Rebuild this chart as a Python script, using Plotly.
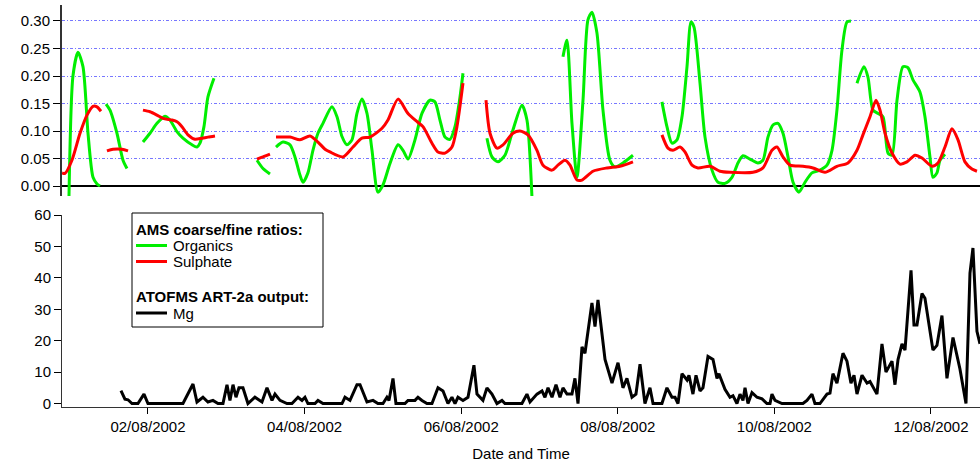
import pandas as pd
import plotly.graph_objects as go

# ---- data: time given as fractional day of August 2002 (None = gap) ----
org_day = [0.991, 1.042, 1.106, 1.170, 1.234, 1.298, 1.349, 1.387, None,
           1.464, 1.515, 1.604, 1.681, 1.732, None,
           1.936, 2.026, 2.115, 2.217, 2.281, 2.370, 2.447, 2.562, 2.626, 2.664, 2.715, 2.766, 2.843, None,
           3.392, 3.469, 3.558, None,
           3.635, 3.724, 3.814, 3.877, 3.941, 3.980, 4.043, 4.107, 4.171, 4.235, 4.350, 4.414, 4.478,
           4.541, 4.605, 4.669, 4.733, 4.797, 4.861, 4.937, 5.001, 5.091, 5.193, 5.257, 5.321, 5.410,
           5.499, 5.601, 5.665, 5.729, 5.793, 5.857, 5.921, 5.985, 6.023, None,
           6.329, 6.393, 6.470, 6.559, 6.661, 6.776, 6.840, 6.904, None,
           7.300, 7.351, 7.415, 7.479, 7.556, 7.619, 7.670, 7.734, 7.811, 7.900, 7.964, 8.066, 8.194, None,
           8.564, 8.628, 8.692, 8.756, 8.820, 8.884, 8.935, 8.973, 9.050, 9.114, 9.203, 9.280, 9.369,
           9.458, 9.535, 9.599, 9.688, 9.790, 9.854, 9.918, 9.982, 10.046, 10.110, 10.174, 10.238,
           10.314, 10.391, 10.480, 10.582, 10.672, 10.736, 10.799, 10.863, 10.927, 10.978, None,
           11.055, 11.144, 11.195, 11.259, 11.323, 11.387, 11.451, 11.502, 11.566, 11.642, 11.706,
           11.770, 11.859, 11.923, 11.987, 12.025, 12.076, 12.115, 12.179]
org_val = [-0.020, 0.200, 0.243, 0.217, 0.096, 0.016, 0.004, 0.000, None,
           0.149, 0.138, 0.096, 0.047, 0.032, None,
           0.080, 0.096, 0.114, 0.127, 0.120, 0.099, 0.087, 0.075, 0.071, 0.078, 0.108, 0.162, 0.196, None,
           0.047, 0.032, 0.022, None,
           0.071, 0.080, 0.075, 0.053, 0.020, 0.007, 0.024, 0.065, 0.096, 0.114, 0.144, 0.126, 0.090,
           0.075, 0.084, 0.132, 0.158, 0.132, 0.065, -0.011, 0.002, 0.041, 0.075, 0.065, 0.049, 0.084,
           0.132, 0.156, 0.153, 0.120, 0.089, 0.085, 0.108, 0.162, 0.205, None,
           0.087, 0.053, 0.044, 0.056, 0.102, 0.147, 0.120, -0.020, None,
           0.235, 0.265, 0.114, 0.016, 0.156, 0.302, 0.316, 0.278, 0.138, 0.047, 0.035, 0.042, 0.056, None,
           0.153, 0.108, 0.078, 0.084, 0.126, 0.217, 0.298, 0.289, 0.187, 0.089, 0.029, 0.007, 0.005,
           0.016, 0.042, 0.055, 0.049, 0.042, 0.047, 0.089, 0.111, 0.114, 0.096, 0.053, 0.007,
           -0.011, 0.007, 0.024, 0.029, 0.038, 0.065, 0.138, 0.247, 0.298, 0.300, None,
           0.187, 0.217, 0.198, 0.138, 0.132, 0.126, 0.060, 0.056, 0.156, 0.217, 0.215,
           0.193, 0.171, 0.126, 0.053, 0.016, 0.024, 0.047, 0.058]

sul_day = [0.902, 0.940, 1.029, 1.132, 1.221, 1.298, 1.349, 1.400, None,
           1.476, 1.553, 1.668, 1.745, None,
           1.936, 2.026, 2.115, 2.192, 2.307, 2.370, 2.434, 2.511, 2.600, 2.690, 2.766, 2.856, None,
           3.392, 3.469, 3.558, None,
           3.635, 3.814, 3.941, 4.069, 4.171, 4.261, 4.324, 4.490, 4.618, 4.733, 4.835, 4.989, 5.065,
           5.193, 5.321, 5.436, 5.512, 5.627, 5.704, 5.793, 5.882, 5.946, 6.023, None,
           6.317, 6.368, 6.457, 6.534, 6.661, 6.751, 6.853, 6.968, 7.045, 7.160, 7.236, 7.326, 7.390,
           7.479, 7.543, 7.683, 7.862, 8.028, 8.194, None,
           8.564, 8.641, 8.705, 8.794, 8.858, 8.948, 9.024, 9.178, 9.305, 9.433, 9.727, 9.854, 9.969,
           10.033, 10.110, 10.199, 10.365, 10.493, 10.646, 10.799, 10.940, 11.055, 11.131, 11.221,
           11.298, 11.349, 11.413, 11.502, 11.604, 11.693, 11.796, 11.885, 12.013, 12.089, 12.179,
           12.268, 12.345, 12.434, 12.523, 12.587]
sul_val = [0.024, 0.023, 0.047, 0.096, 0.129, 0.145, 0.144, 0.136, None,
           0.064, 0.067, 0.067, 0.064, None,
           0.138, 0.135, 0.129, 0.123, 0.120, 0.117, 0.108, 0.093, 0.085, 0.087, 0.089, 0.091, None,
           0.049, 0.053, 0.058, None,
           0.089, 0.089, 0.084, 0.091, 0.080, 0.067, 0.062, 0.053, 0.071, 0.087, 0.089, 0.105, 0.120,
           0.158, 0.132, 0.117, 0.108, 0.078, 0.062, 0.060, 0.071, 0.108, 0.187, None,
           0.156, 0.096, 0.069, 0.075, 0.096, 0.100, 0.093, 0.065, 0.038, 0.029, 0.038, 0.047, 0.038,
           0.011, 0.011, 0.027, 0.033, 0.036, 0.044, None,
           0.093, 0.069, 0.065, 0.071, 0.062, 0.038, 0.033, 0.036, 0.027, 0.025, 0.025, 0.033, 0.065,
           0.071, 0.053, 0.038, 0.036, 0.033, 0.025, 0.036, 0.042, 0.065, 0.093, 0.126,
           0.156, 0.138, 0.096, 0.060, 0.040, 0.044, 0.056, 0.051, 0.036, 0.042, 0.071,
           0.104, 0.084, 0.044, 0.031, 0.027]

mg_day = [1.655, 1.706, 1.745, 1.796, 1.872, 1.949, 2.000, 2.447, 2.575, 2.626, 2.702, 2.766, 2.830,
          2.894, 2.958, 3.009, 3.047, 3.086, 3.124, 3.162, 3.213, 3.277, 3.366, 3.456, 3.520, 3.584,
          3.622, 3.686, 3.775, 3.839, 3.916, 3.967, 4.005, 4.043, 4.133, 4.171, 4.235, 4.478, 4.516,
          4.580, 4.669, 4.708, 4.797, 4.874, 4.937, 5.001, 5.052, 5.078, 5.129, 5.167, 5.282, 5.321,
          5.410, 5.448, 5.499, 5.563, 5.627, 5.704, 5.768, 5.831, 5.882, 5.921, 5.959, 6.023, 6.087,
          6.163, 6.202, 6.278, 6.329, 6.393, 6.457, 6.521, 6.559, 6.776, 6.840, 6.879, 6.968, 7.032,
          7.070, 7.109, 7.160, 7.211, 7.262, 7.300, 7.351, 7.415, 7.453, 7.492, 7.543, 7.581, 7.670,
          7.709, 7.747, 7.837, 7.926, 8.003, 8.066, 8.117, 8.181, 8.232, 8.284, 8.347, 8.411, 8.450,
          8.564, 8.628, 8.692, 8.731, 8.769, 8.820, 8.884, 8.909, 8.960, 8.999, 9.050, 9.088, 9.152,
          9.216, 9.267, 9.292, 9.369, 9.433, 9.471, 9.522, 9.561, 9.599, 9.625, 9.663, 9.714, 9.778,
          9.842, 9.905, 9.944, 9.969, 10.008, 10.097, 10.365, 10.416, 10.480, 10.518, 10.582, 10.672,
          10.710, 10.748, 10.799, 10.876, 10.927, 10.978, 11.017, 11.055, 11.119, 11.183, 11.221,
          11.310, 11.374, 11.425, 11.502, 11.540, 11.579, 11.630, 11.668, 11.745, 11.783, 11.821,
          11.885, 11.923, 12.025, 12.076, 12.140, 12.204, 12.281, 12.370, 12.447, 12.498, 12.536,
          12.587, 12.626]
mg_val = [4.1, 1.4, 1.2, 0, 0, 3, 0, 0, 6.2, 0.5, 2, 0.5, 1,
          0, 0, 6, 1, 6, 2, 5, 5, 0, 2, 0.5, 5, 1,
          3, 1, 0, 0, 2, 1, 2, 0, 0, 1, 0, 0, 2,
          1, 6, 6, 0.5, 1, 0, 0, 2, 1, 8, 0, 0, 1,
          1, 2, 1, 0, 0, 5, 4, 0, 2, 0, 2, 1, 2,
          12.2, 3, 1, 5, 3, 0, 1, 0, 0, 3, 0.5, 3, 4,
          2, 5, 2, 6, 2, 5, 3, 3, 8, 0, 18, 16, 32,
          24.5, 33, 14, 6.5, 13, 5, 8, 2, 3, 12.5, 0, 5, 0,
          0, 5, 2, 2, 0, 9.5, 7.5, 9, 3, 9, 4, 5, 15,
          14, 8, 9.5, 4.5, 2, 2.5, 0, 3, 1, 5, 0, 3.5, 2,
          1.5, 0, 0, 3, 1, 0, 0, 1, 3, 0, 0, 3,
          3.3, 9.5, 6.5, 16, 13.5, 6.5, 9, 3, 9, 6.5, 7,
          3, 19, 10, 13.5, 6, 14, 19, 17, 42.4, 25, 25,
          35, 33.5, 17, 18.5, 28, 8, 21, 11, 0, 41.5, 49.5,
          23, 19]

x_range_days = [0.902, 12.626]
tick_days = [2, 4, 6, 8, 10, 12]
top_yticks = [0.00, 0.05, 0.10, 0.15, 0.20, 0.25, 0.30]
bottom_yticks = [0, 10, 20, 30, 40, 50, 60]

legend_groups = ["AMS coarse/fine ratios:", "ATOFMS ART-2a output:"]

BASE = pd.Timestamp("2002-07-31")


def to_dt(days):
    return [None if d is None else BASE + pd.to_timedelta(d, unit="D") for d in days]


FONT = "Liberation Sans, Arial, sans-serif"
GREEN, RED, BLACK = "#00ee00", "#ff0000", "#000000"

fig = go.Figure()
fig.add_trace(go.Scatter(
    x=to_dt(org_day), y=org_val, mode="lines", name="Organics", showlegend=False,
    line=dict(color=GREEN, width=3, shape="spline", smoothing=0.7),
    connectgaps=False, xaxis="x", yaxis="y"))
fig.add_trace(go.Scatter(
    x=to_dt(sul_day), y=sul_val, mode="lines", name="Sulphate", showlegend=False,
    line=dict(color=RED, width=3, shape="spline", smoothing=0.7),
    connectgaps=False, xaxis="x", yaxis="y"))
fig.add_trace(go.Scatter(
    x=to_dt(mg_day), y=mg_val, mode="lines", name="Mg", showlegend=False,
    line=dict(color=BLACK, width=3),
    xaxis="x2", yaxis="y2"))

xr = to_dt(x_range_days)
tv = to_dt(tick_days)
tt = [d.strftime("%d/%m/%Y") for d in tv]

# plot area in pixels: x 62..980, y 5..407
PL, PR, PT, PB = 62, 980, 5, 407


def px(xp):
    return (xp - PL) / (PR - PL)


def py(yp):
    return (PB - yp) / (PB - PT)


# ---- hand-built legend box (real text) ----
shapes = [dict(type="rect", xref="paper", yref="paper",
               x0=px(132), x1=px(323), y0=py(213), y1=py(327),
               line=dict(color="black", width=1), fillcolor="white", layer="above")]
annotations = []
entries = [
    ("title", legend_groups[0], None, 230),
    ("item", "Organics", GREEN, 245.5),
    ("item", "Sulphate", RED, 261.5),
    ("title", legend_groups[1], None, 296),
    ("item", "Mg", BLACK, 313),
]
for kind, text, color, yc in entries:
    if kind == "title":
        annotations.append(dict(xref="paper", yref="paper", x=px(134), y=py(yc),
                                xanchor="left", yanchor="middle", showarrow=False,
                                text=f"<b>{text}</b>", font=dict(family=FONT, size=15, color="black")))
    else:
        shapes.append(dict(type="line", xref="paper", yref="paper",
                           x0=px(136), x1=px(167), y0=py(yc), y1=py(yc),
                           line=dict(color=color, width=3), layer="above"))
        annotations.append(dict(xref="paper", yref="paper", x=px(171), y=py(yc),
                                xanchor="left", yanchor="middle", showarrow=False,
                                text=text, font=dict(family=FONT, size=15, color="black")))

top_dom = [py(196), 1.0]
bot_dom = [0.0, py(215)]

fig.update_layout(
    width=980, height=462,
    margin=dict(l=PL, r=980 - PR, t=PT, b=462 - PB, autoexpand=False),
    paper_bgcolor="white", plot_bgcolor="white",
    font=dict(family=FONT, size=15, color="black"),
    showlegend=False,
    shapes=shapes, annotations=annotations,
    xaxis=dict(
        domain=[0, 1], anchor="y", range=xr, type="date", automargin=False,
        showticklabels=False, showline=False, showgrid=False, zeroline=False,
        ticks="", matches="x2",
    ),
    yaxis=dict(
        domain=top_dom, anchor="x", range=[-0.018, 0.329], automargin=False,
        tickvals=top_yticks, ticktext=[f"{v:.2f}" for v in top_yticks],
        ticks="outside", ticklen=7, tickcolor="black", tickwidth=1,
        showline=True, linecolor="#333333", linewidth=2,
        showgrid=True, gridcolor="#7777ff", gridwidth=1, griddash="3px,2px,1px,2px",
        zeroline=True, zerolinecolor="black", zerolinewidth=2,
    ),
    xaxis2=dict(
        domain=[0, 1], anchor="y2", range=xr, type="date", automargin=False,
        tickvals=tv, ticktext=tt,
        ticks="outside", ticklen=6, tickcolor="black",
        showline=True, linecolor="#333333", linewidth=1,
        showgrid=False, zeroline=False,
        title=dict(text="Date and Time", standoff=14, font=dict(size=15)),
    ),
    yaxis2=dict(
        domain=bot_dom, anchor="x2", range=[-1.1, 60], automargin=False,
        tickvals=bottom_yticks,
        ticks="outside", ticklen=7, tickcolor="black",
        showline=True, linecolor="#333333", linewidth=1,
        showgrid=False, zeroline=False,
    ),
)

fig.write_html("out.html", config={"displayModeBar": False},
               post_script="document.body.style.margin='0';")
